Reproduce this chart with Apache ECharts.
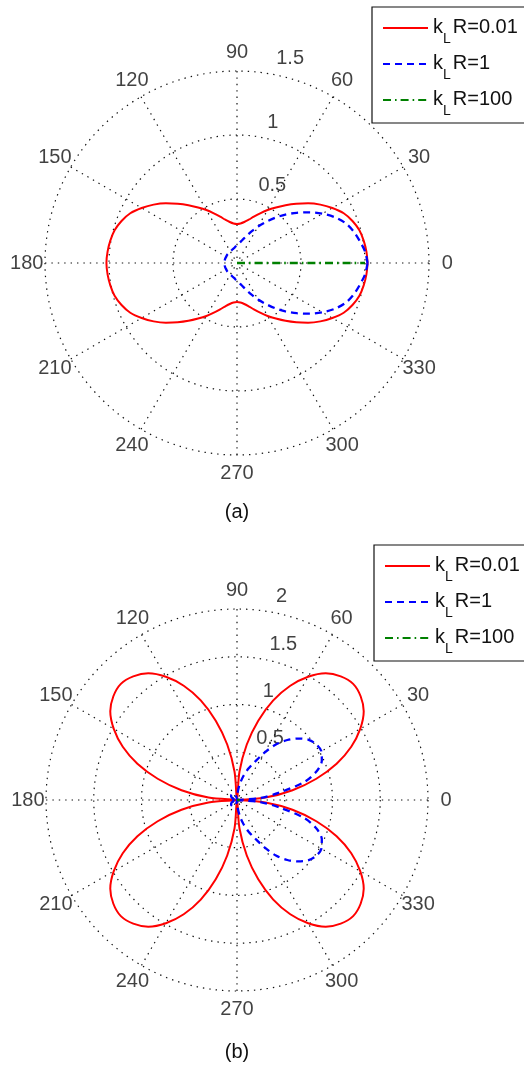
<!DOCTYPE html>
<html>
<head>
<meta charset="utf-8">
<script src="https://cdn.jsdelivr.net/npm/echarts/dist/echarts.min.js"></script>
<style>
html,body{margin:0;padding:0;background:#fff;}
#chart{width:524px;height:1066px;}
</style>
</head>
<body>
<div id="chart"></div>
<script>
// ---- data ----
const kLRValues = ['0.01', '1', '100'];
const angleTicks = [0, 30, 60, 90, 120, 150, 180, 210, 240, 270, 300, 330];
const rhoTicksA = [0.5, 1, 1.5];
const rhoTicksB = [0.5, 1, 1.5, 2];

const angles5 = [0,5,10,15,20,25,30,35,40,45,50,55,60,65,70,75,80,85,90,
  95,100,105,110,115,120,125,130,135,140,145,150,155,160,165,170,175,180,
  185,190,195,200,205,210,215,220,225,230,235,240,245,250,255,260,265,270,
  275,280,285,290,295,300,305,310,315,320,325,330,335,340,345,350,355,360];

// (a) kL R = 0.01
const redA = [1.02,1.015,1.005,0.99,0.96,0.92,0.86,0.795,0.725,0.655,0.59,0.53,0.478,0.428,0.385,0.35,0.325,0.31,0.305,
  0.31,0.325,0.35,0.385,0.428,0.478,0.53,0.59,0.655,0.725,0.795,0.86,0.92,0.96,0.99,1.005,1.015,1.02,
  1.015,1.005,0.99,0.96,0.92,0.86,0.795,0.725,0.655,0.59,0.53,0.478,0.428,0.385,0.35,0.325,0.31,0.305,
  0.31,0.325,0.35,0.385,0.428,0.478,0.53,0.59,0.655,0.725,0.795,0.86,0.92,0.96,0.99,1.005,1.015,1.02];
// (a) kL R = 1
const blueA = [1.02,1.005,0.975,0.945,0.905,0.845,0.77,0.69,0.61,0.535,0.46,0.39,0.33,0.275,0.23,0.195,0.17,0.152,0.14,
  0.13,0.12,0.115,0.11,0.107,0.105,0.102,0.10,0.10,0.10,0.099,0.098,0.098,0.098,0.098,0.098,0.098,0.098,
  0.098,0.098,0.098,0.098,0.098,0.098,0.099,0.10,0.10,0.10,0.102,0.105,0.107,0.11,0.115,0.12,0.13,0.14,
  0.152,0.17,0.195,0.23,0.275,0.33,0.39,0.46,0.535,0.61,0.69,0.77,0.845,0.905,0.945,0.975,1.005,1.02];
// (a) kL R = 100 (very narrow lobe along 0 deg)
const greenAAngles = [0, 0];
const greenA = [0, 1.0];

// (b) kL R = 0.01
const redB = [0,0.30,0.59,0.86,1.11,1.32,1.49,1.62,1.69,1.72,1.69,1.62,1.49,1.32,1.11,0.86,0.59,0.30,0,
  0.30,0.59,0.86,1.11,1.32,1.49,1.62,1.69,1.72,1.69,1.62,1.49,1.32,1.11,0.86,0.59,0.30,0,
  0.30,0.59,0.86,1.11,1.32,1.49,1.62,1.69,1.72,1.69,1.62,1.49,1.32,1.11,0.86,0.59,0.30,0,
  0.30,0.59,0.86,1.11,1.32,1.49,1.62,1.69,1.72,1.69,1.62,1.49,1.32,1.11,0.86,0.59,0.30,0];
// (b) kL R = 1
const blueB = [0,0.245,0.45,0.73,0.89,0.98,1.02,1.015,0.98,0.91,0.82,0.71,0.57,0.44,0.35,0.26,0.17,0.08,0,
  0.015,0.03,0.045,0.06,0.07,0.075,0.08,0.08,0.08,0.08,0.075,0.07,0.06,0.05,0.04,0.025,0.012,0,
  0.012,0.025,0.04,0.05,0.06,0.07,0.075,0.08,0.08,0.08,0.08,0.075,0.07,0.06,0.045,0.03,0.015,0,
  0.08,0.17,0.26,0.35,0.44,0.57,0.71,0.82,0.91,0.98,1.015,1.02,0.98,0.89,0.73,0.45,0.245,0];
// (b) kL R = 100
const greenBAngles = [0, 0];
const greenB = [0, 0.03];

// ---- styles ----
const FONT = "'Liberation Sans', Arial, Helvetica, sans-serif";
const TXT = '#111';
const gridLine = { color: '#111', width: 1.2, type: [1.4, 5] };
const names = kLRValues.map(v => 'kLR=' + v);
const lineStyles = [
  { color: '#ff0000', width: 2, type: 'solid' },
  { color: '#0000ff', width: 2.3, type: [7, 5] },
  { color: '#008000', width: 2.6, type: [8, 4, 1.6, 4] }
];

function pairs(rs, angs) { return rs.map((r, i) => [r, angs[i]]); }

function lineSeries(polarIndex, idx, data, smooth) {
  return {
    type: 'line', name: names[idx], coordinateSystem: 'polar', polarIndex: polarIndex,
    data: data, symbol: 'none', showSymbol: false, smooth: smooth, clip: false,
    lineStyle: lineStyles[idx], itemStyle: { color: lineStyles[idx].color },
    silent: true, z: 3 + idx
  };
}

function angleLabelSeries(polarIndex, rmax) {
  return {
    type: 'scatter', coordinateSystem: 'polar', polarIndex: polarIndex, clip: false, silent: true,
    symbolSize: 1, itemStyle: { color: 'rgba(0,0,0,0)' },
    data: angleTicks.map(a => [rmax * 1.095, a]),
    label: { show: true, position: 'inside', formatter: p => String(p.value[1]),
      fontSize: 20, color: TXT, fontFamily: FONT }
  };
}
function rhoLabelSeries(polarIndex, ticks) {
  return {
    type: 'scatter', coordinateSystem: 'polar', polarIndex: polarIndex, clip: false, silent: true,
    symbolSize: 1, itemStyle: { color: 'rgba(0,0,0,0)' },
    data: ticks.map(r => [r, 82]),
    label: { show: true, position: 'right', distance: 12, offset: [0, -14],
      formatter: p => String(p.value[0]), fontSize: 20, color: TXT, fontFamily: FONT }
  };
}

function angleAxis(polarIndex) {
  return {
    polarIndex: polarIndex, type: 'value', min: 0, max: 360, interval: 30,
    startAngle: 0, clockwise: false,
    axisLine: { show: false }, axisTick: { show: false }, axisLabel: { show: false },
    splitLine: { show: true, lineStyle: gridLine }
  };
}
function radiusAxis(polarIndex, max) {
  return {
    polarIndex: polarIndex, type: 'value', min: 0, max: max, interval: 0.5,
    axisLine: { show: false }, axisTick: { show: false }, axisLabel: { show: false },
    splitLine: { show: true, lineStyle: gridLine }
  };
}

function legend(left, top) {
  return {
    data: names, orient: 'vertical', left: left, top: top, selectedMode: false,
    itemWidth: 45, itemHeight: 14, itemGap: 7,
    padding: [10, 200, 5, 10],
    borderColor: '#111', borderWidth: 1.2, backgroundColor: '#fff',
    itemStyle: { opacity: 0 },
    formatter: name => '{k|k}{s|L}{t|R=' + name.slice(4) + '}',
    textStyle: {
      fontSize: 20, color: TXT, fontFamily: FONT,
      rich: {
        k: { fontSize: 20, lineHeight: 22, verticalAlign: 'top', color: TXT, fontFamily: FONT },
        s: { fontSize: 14, lineHeight: 16, verticalAlign: 'top', padding: [15, 0, 0, 0], color: TXT, fontFamily: FONT },
        t: { fontSize: 20, lineHeight: 22, verticalAlign: 'top', padding: [0, 0, 0, 2], color: TXT, fontFamily: FONT }
      }
    }
  };
}

const chart = echarts.init(document.getElementById('chart'), null, { renderer: 'canvas' });
chart.setOption({
  animation: false,
  backgroundColor: '#fff',
  title: [
    { text: '(a)', left: 237, top: 502, textAlign: 'center', padding: 0,
      textStyle: { fontSize: 20, fontWeight: 'normal', color: TXT, fontFamily: FONT } },
    { text: '(b)', left: 237, top: 1042, textAlign: 'center', padding: 0,
      textStyle: { fontSize: 20, fontWeight: 'normal', color: TXT, fontFamily: FONT } }
  ],
  polar: [
    { center: [237, 263], radius: 192 },
    { center: [237, 800], radius: 191 }
  ],
  angleAxis: [angleAxis(0), angleAxis(1)],
  radiusAxis: [radiusAxis(0, 1.5), radiusAxis(1, 2)],
  legend: [legend(372, 7), legend(374, 545)],
  series: [
    lineSeries(0, 0, pairs(redA, angles5), 0.3),
    lineSeries(0, 1, pairs(blueA, angles5), 0.3),
    lineSeries(0, 2, pairs(greenA, greenAAngles), false),
    lineSeries(1, 0, pairs(redB, angles5), 0.35),
    lineSeries(1, 1, pairs(blueB, angles5), 0.3),
    lineSeries(1, 2, pairs(greenB, greenBAngles), false),
    angleLabelSeries(0, 1.5), angleLabelSeries(1, 2),
    rhoLabelSeries(0, rhoTicksA), rhoLabelSeries(1, rhoTicksB)
  ]
});
</script>
</body>
</html>
